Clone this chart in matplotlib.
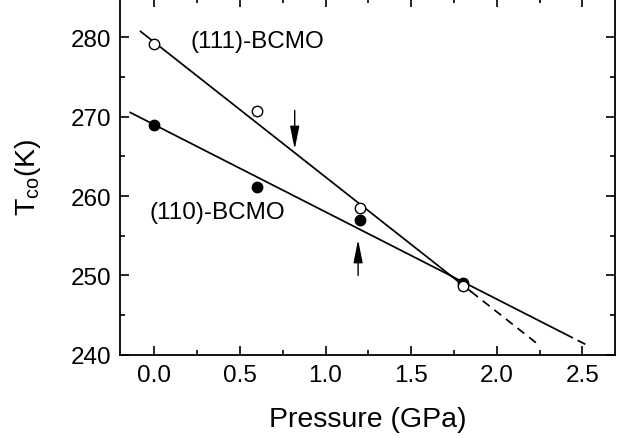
import matplotlib
matplotlib.use("Agg")
import matplotlib.pyplot as plt
import numpy as np
from matplotlib.ticker import MultipleLocator

plt.rcParams['font.family'] = ['Liberation Sans', 'DejaVu Sans']
plt.rcParams['mathtext.default'] = 'regular'

# data
pressure = [0.0, 0.6, 1.2, 1.8]
t_111 = [279.2, 270.7, 258.5, 248.6]
t_110 = [269.0, 261.2, 257.0, 249.1]

# linear fits: intercept, slope
fit_111 = (279.4, -17.0)
fit_110 = (269.0, -11.0)
fit_111_solid = [-0.08, 1.85]
fit_111_dash = [1.85, 2.25]
fit_110_solid = [-0.14, 2.44]
fit_110_dash = [2.44, 2.53]

# arrows (tail -> tip)
arrow_down = ((0.82, 270.8), (0.82, 265.9))
arrow_up = ((1.19, 250.0), (1.19, 254.5))

fig = plt.figure(figsize=(6.29, 4.39), dpi=100)
ax = fig.add_axes([120/629, 83.3/439, 495/629, (355.7+1.2)/439])

def line(fit, xr, **kw):
    x = np.array(xr)
    ax.plot(x, fit[0] + fit[1]*x, color='black', lw=1.25, **kw)

line(fit_111, fit_111_solid)
line(fit_111, fit_111_dash, ls=(0, (5, 3.5)))
line(fit_110, fit_110_solid)
line(fit_110, fit_110_dash, ls=(5, (5, 3.5)))

ax.plot(pressure, t_110, 'o', ms=7.5, mfc='black', mec='black', mew=1, zorder=3)
ax.plot(pressure, t_111, 'o', ms=7.5, mfc='white', mec='black', mew=1, zorder=4)

for tail, tip in (arrow_down, arrow_up):
    ax.annotate('', xy=tip, xytext=tail,
                arrowprops=dict(arrowstyle='-|>,head_length=1.4,head_width=0.28',
                                mutation_scale=10, lw=1, color='black',
                                shrinkA=0, shrinkB=0))

ax.text(0.21, 279.6, '(111)-BCMO', fontsize=17.5, va='center', ha='left')
ax.text(-0.03, 258.0, '(110)-BCMO', fontsize=17.5, va='center', ha='left')

ax.set_xlim(-0.2, 2.69)
ax.set_ylim(240, 285)
ax.xaxis.set_minor_locator(MultipleLocator(0.25))
ax.yaxis.set_minor_locator(MultipleLocator(5))
ax.set_xticks([0, 0.5, 1.0, 1.5, 2.0, 2.5])
ax.set_xticklabels(['0.0', '0.5', '1.0', '1.5', '2.0', '2.5'])
ax.set_yticks([240, 250, 260, 270, 280])
ax.tick_params(which='both', direction='in', top=True, right=True, labelsize=17.5, width=1.2)
ax.tick_params(which='major', length=6.5)
ax.tick_params(which='minor', length=3.5)
ax.tick_params(axis='x', pad=7)
ax.tick_params(axis='y', pad=6)
for s in ax.spines.values():
    s.set_linewidth(1.3)

ax.set_xlabel('Pressure (GPa)', fontsize=20.5, labelpad=14)
ax.set_ylabel('T$_{co}$(K)', fontsize=20.5, labelpad=20)

fig.savefig('out.png', dpi=100)
